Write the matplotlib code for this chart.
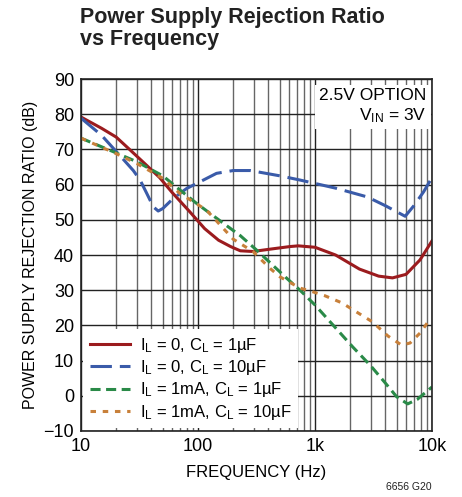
import numpy as np
import matplotlib
matplotlib.use('Agg')
import matplotlib.pyplot as plt

plt.rcParams['font.family'] = ['Liberation Sans', 'DejaVu Sans']
plt.rcParams['mathtext.default'] = 'regular'

# data (frequency in Hz, PSRR in dB)
f_red = [10, 15, 20, 26, 35, 47, 60, 85, 114, 150, 190, 230, 295, 400, 610, 720, 1000, 1500, 2400, 3500, 4600, 6000, 7900, 10000]
db_red = [79.2, 76, 73.5, 70, 66, 62, 57.8, 52.3, 47.5, 44.2, 42.4, 41.2, 41, 41.6, 42.4, 42.6, 42.2, 40, 36, 34, 33.5, 34.5, 38.6, 44]

f_blue = [10, 15, 22, 28, 32, 36.5, 41.5, 45.7, 50, 61.6, 80, 104, 144, 200, 280, 500, 745, 1500, 2800, 4000, 5900, 7000, 8500, 10000]
db_blue = [78.9, 74, 67.9, 64, 61.3, 57.5, 53.7, 52.5, 53.2, 56.1, 58.9, 60.8, 63.2, 64, 64, 62.5, 61.3, 59, 56.5, 54, 51, 54, 58, 62]

f_green = [10, 20, 30, 50, 70, 97, 165, 230, 317, 573, 745, 1000, 2100, 3000, 4000, 5000, 6200, 7500, 10000]
db_green = [73.2, 69, 66.5, 62.5, 58.5, 54.7, 49, 45.5, 41.4, 33.4, 30, 25.8, 13.9, 8.5, 3.6, -0.3, -2.3, -1, 2.5]

f_orange = [10, 20, 30, 50, 70, 118, 200, 295, 413, 502, 745, 907, 1200, 1700, 3100, 4200, 5500, 6500, 8000, 9700]
db_orange = [73.2, 68.8, 66, 61.8, 57.5, 52.8, 44.5, 41, 36.2, 33.8, 30.6, 29.8, 28.5, 26.4, 21, 17, 14.4, 15, 18, 22]

labels = ['$I_L$ = 0, $C_L$ = 1µF', '$I_L$ = 0, $C_L$ = 10µF',
          '$I_L$ = 1mA, $C_L$ = 1µF', '$I_L$ = 1mA, $C_L$ = 10µF']

fig = plt.figure(figsize=(4.62, 4.97), dpi=100)
ax = fig.add_axes([0.1753, 0.1328, 0.7597, 0.7082])

ax.plot(f_red, db_red, color='#9b1b1e', lw=2.2, label=labels[0])
ax.plot(f_blue, db_blue, color='#3a5ba9', lw=2.2, dashes=(7, 2.6), label=labels[1])
ax.plot(f_green, db_green, color='#2a8a48', lw=2.2, dashes=(3.3, 1.8), label=labels[2])
ax.plot(f_orange, db_orange, color='#c8803a', lw=2.2, dashes=(1.8, 2.2), label=labels[3])

ax.set_xscale('log')
ax.set_xlim(10, 10000)
ax.set_ylim(-10, 90)
ax.set_yticks(np.arange(-10, 91, 10))
ax.set_yticklabels(['\u221210'] + [str(v) for v in range(0, 91, 10)])
ax.set_xticks([10, 100, 1000, 10000])
ax.set_xticklabels(['10', '100', '1k', '10k'])
ax.xaxis.set_minor_formatter(matplotlib.ticker.NullFormatter())

ax.grid(which='major', color='#222222', lw=1)
ax.grid(which='minor', axis='x', color='#666666', lw=1)
ax.set_axisbelow(True)
ax.tick_params(which='both', direction='in', length=0, labelsize=13, pad=5)
for s in ax.spines.values():
    s.set_color('#222222')
    s.set_linewidth(1.2)

ax.set_xlabel('FREQUENCY (Hz)', fontsize=12, labelpad=7)
ax.set_ylabel('POWER SUPPLY REJECTION RATIO (dB)', fontsize=11.5, labelpad=4)

leg = ax.legend(loc='lower left', fontsize=12, handlelength=2.4, frameon=True,
                fancybox=False, framealpha=1, edgecolor='none', borderaxespad=0.15,
                labelspacing=0.2, handletextpad=0.6, borderpad=0.4)
leg.get_frame().set_facecolor('white')

ax.text(0.985, 0.975, '2.5V OPTION\n$V_{IN}$ = 3V', transform=ax.transAxes,
        ha='right', va='top', fontsize=12.5, linespacing=1.25,
        bbox=dict(facecolor='white', edgecolor='none', pad=3))

fig.text(0.173, 0.985, 'Power Supply Rejection Ratio\nvs Frequency', ha='left', va='top',
         fontsize=15.5, fontweight='bold', color='#222222', linespacing=1.05)
fig.text(0.935, 0.01, '6656 G20', ha='right', va='bottom', fontsize=7.5, color='#222222')

plt.savefig('out.png', dpi=100)
